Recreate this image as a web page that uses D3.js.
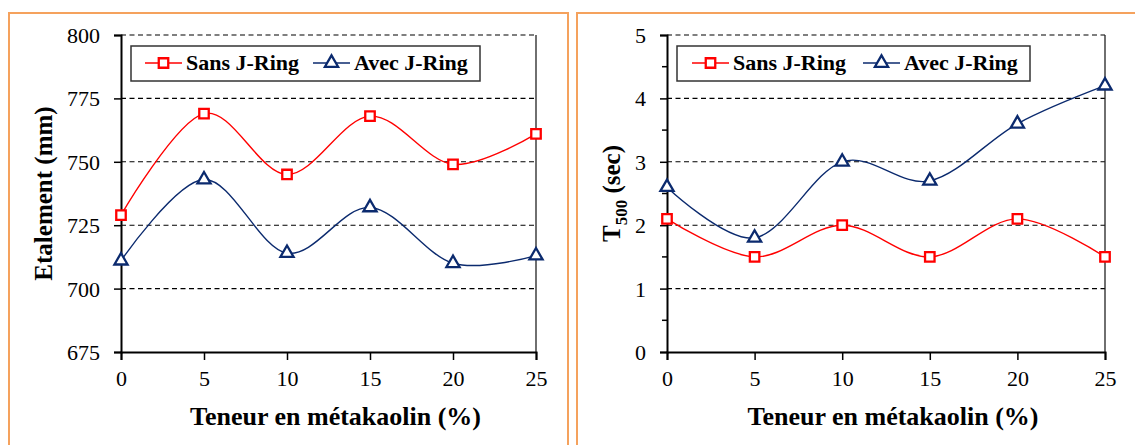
<!DOCTYPE html>
<html>
<head>
<meta charset="utf-8">
<script src="https://cdn.jsdelivr.net/npm/d3@7"></script>
<style>
  html, body { margin: 0; padding: 0; background: #fff; }
  svg { display: block; }
</style>
</head>
<body>
<svg id="chart" width="1135" height="445"></svg>
<script>
// Mix proportions: metakaolin content (%)
const metakaolin = [0, 5, 10, 15, 20, 25];
const seriesNames = ["Sans J-Ring", "Avec J-Ring"];

// Slump flow (mm)
const etalementSans = [729, 769, 745, 768, 749, 761];
const etalementAvec = [711, 743, 714, 732, 710, 713];
const etalementTicks = [675, 700, 725, 750, 775, 800];

// Time to reach 500 mm (s)
const t500Sans = [2.1, 1.5, 2.0, 1.5, 2.1, 1.5];
const t500Avec = [2.6, 1.8, 3.0, 2.7, 3.6, 4.2];
const t500Ticks = [0, 1, 2, 3, 4, 5];
const t500MinorTicks = [0.5, 1.5, 2.5, 3.5, 4.5];

const xTicks = [0, 5, 10, 15, 20, 25];

const FONT = "'Liberation Serif', 'Times New Roman', Times, serif";
const svg = d3.select("#chart").style("font-family", FONT);
const RED = "#ff0000";
const NAVY = "#0b2a6e";
const ORANGE = "#f5a25d";

// panel frames
svg.append("rect").attr("x", 9).attr("y", 13).attr("width", 559).attr("height", 460)
  .attr("fill", "none").attr("stroke", ORANGE).attr("stroke-width", 2);
svg.append("rect").attr("x", 577).attr("y", 13).attr("width", 600).attr("height", 460)
  .attr("fill", "none").attr("stroke", ORANGE).attr("stroke-width", 2);

function drawPanel(opt) {
  const g = svg.append("g");
  const x = d3.scaleLinear().domain([0, 25]).range([opt.left, opt.right]);
  const y = d3.scaleLinear().domain(opt.yDomain).range([opt.bottom, opt.top]);

  // dashed horizontal gridlines
  g.selectAll("line.grid").data(opt.yTicks.filter(v => v !== opt.yDomain[0])).enter()
    .append("line").attr("class", "grid")
    .attr("x1", opt.left).attr("x2", opt.right)
    .attr("y1", d => y(d)).attr("y2", d => y(d))
    .attr("stroke", "#000").attr("stroke-width", 1.1).attr("stroke-dasharray", "5,3.5");

  // right edge of plot area
  g.append("line").attr("x1", opt.right).attr("x2", opt.right)
    .attr("y1", opt.top).attr("y2", opt.bottom)
    .attr("stroke", "#222").attr("stroke-width", 1.3);

  // y axis
  const yAxis = d3.axisLeft(y).tickValues(opt.yTicks).tickSize(7).tickPadding(14)
    .tickFormat(d3.format("d"));
  const ya = g.append("g").attr("transform", `translate(${opt.left},0)`).call(yAxis)
    .attr("font-family", null).attr("font-size", null);
  ya.select(".domain").attr("stroke", "#000").attr("stroke-width", 2);
  ya.selectAll(".tick line").attr("stroke", "#000").attr("stroke-width", 1.5);
  ya.selectAll(".tick text").style("font-family", FONT).style("font-size", "22px")
    .attr("dy", "0.34em").attr("fill", "#000");
  if (opt.yMinor) {
    g.selectAll("line.minor").data(opt.yMinor).enter().append("line")
      .attr("x1", opt.left - 5).attr("x2", opt.left)
      .attr("y1", d => y(d)).attr("y2", d => y(d))
      .attr("stroke", "#000").attr("stroke-width", 1.5);
  }

  // x axis
  const xAxis = d3.axisBottom(x).tickValues(xTicks).tickSize(8).tickPadding(10);
  const xa = g.append("g").attr("transform", `translate(0,${opt.bottom})`).call(xAxis)
    .attr("font-family", null).attr("font-size", null);
  xa.select(".domain").attr("stroke", "#000").attr("stroke-width", 2);
  xa.selectAll(".tick line").attr("stroke", "#000").attr("stroke-width", 1.5);
  xa.selectAll(".tick text").style("font-family", FONT).style("font-size", "22px")
    .attr("fill", "#000");

  // axis titles
  g.append("text").attr("x", (opt.left + opt.right) / 2 + 7).attr("y", 425)
    .attr("text-anchor", "middle").style("font-family", FONT)
    .style("font-size", "26px").style("font-weight", "bold")
    .text("Teneur en métakaolin (%)");

  const yt = g.append("text")
    .attr("transform", `translate(${opt.yTitleX},${(opt.top + opt.bottom) / 2}) rotate(-90)`)
    .attr("text-anchor", "middle").style("font-family", FONT)
    .style("font-size", "25px").style("font-weight", "bold");
  opt.yTitle(yt);

  // smoothed series lines and markers
  const line = d3.line().x((d, i) => x(metakaolin[i])).y(d => y(d))
    .curve(d3.curveCardinal.tension(0));
  const series = [
    { values: opt.sans, color: RED, marker: "square" },
    { values: opt.avec, color: NAVY, marker: "triangle" }
  ];
  series.forEach(s => {
    g.append("path").datum(s.values).attr("d", line)
      .attr("fill", "none").attr("stroke", s.color).attr("stroke-width", 1.4);
  });
  series.forEach(s => {
    const sym = s.marker === "square"
      ? d3.symbol().type(d3.symbolSquare).size(90)
      : d3.symbol().type(d3.symbolTriangle).size(75);
    g.selectAll(null).data(s.values).enter().append("path")
      .attr("d", sym)
      .attr("transform", (d, i) => `translate(${x(metakaolin[i])},${y(d)})`)
      .attr("fill", "#fff").attr("stroke", s.color).attr("stroke-width", 2.3);
  });

  // legend
  const L = opt.legend;
  g.append("rect").attr("x", L.x).attr("y", 46).attr("width", L.w).attr("height", 35)
    .attr("fill", "#fff").attr("stroke", "#333").attr("stroke-width", 1.5);
  const items = [
    { name: seriesNames[0], color: RED, marker: "square", x0: L.x1 },
    { name: seriesNames[1], color: NAVY, marker: "triangle", x0: L.x2 }
  ];
  items.forEach(it => {
    g.append("line").attr("x1", it.x0).attr("x2", it.x0 + 37).attr("y1", 63).attr("y2", 63)
      .attr("stroke", it.color).attr("stroke-width", 1.4);
    const sym = it.marker === "square"
      ? d3.symbol().type(d3.symbolSquare).size(90)
      : d3.symbol().type(d3.symbolTriangle).size(75);
    g.append("path").attr("d", sym).attr("transform", `translate(${it.x0 + 18.5},63)`)
      .attr("fill", "#fff").attr("stroke", it.color).attr("stroke-width", 2.3);
    g.append("text").attr("x", it.x0 + 41).attr("y", 70).style("font-family", FONT)
      .style("font-size", "22px").style("font-weight", "bold").text(it.name);
  });
}

drawPanel({
  left: 121, right: 536, top: 35, bottom: 352,
  yDomain: [675, 800], yTicks: etalementTicks,
  sans: etalementSans, avec: etalementAvec,
  yTitleX: 52,
  yTitle: t => t.text("Etalement (mm)"),
  legend: { x: 131, w: 349, x1: 145, x2: 313 }
});

drawPanel({
  left: 667, right: 1105, top: 35, bottom: 352,
  yDomain: [0, 5], yTicks: t500Ticks, yMinor: t500MinorTicks,
  sans: t500Sans, avec: t500Avec,
  yTitleX: 620,
  yTitle: t => {
    t.append("tspan").text("T");
    t.append("tspan").attr("dy", 7).style("font-size", "17px").text("500");
    t.append("tspan").attr("dy", -7).text(" (sec)");
  },
  legend: { x: 677, w: 353, x1: 692, x2: 863 }
});
</script>
</body>
</html>
